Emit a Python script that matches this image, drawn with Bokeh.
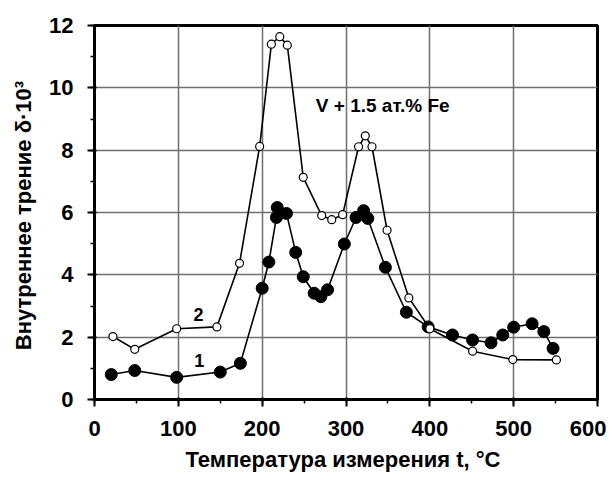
from bokeh.plotting import figure
from bokeh.models import Range1d, SingleIntervalTicker, Label
from bokeh.embed import file_html
from bokeh.resources import INLINE

# curve 1 (filled circles)
t1 = [20, 48, 98, 150, 174, 200, 208, 217, 218, 229, 240, 249, 262, 270, 278,
      298, 312, 321, 326, 347, 372, 398, 427, 451, 473, 487, 500, 522, 536, 547]
d1 = [0.80, 0.93, 0.71, 0.88, 1.16, 3.57, 4.41, 5.84, 6.16, 5.97, 4.72, 3.94, 3.41, 3.30, 3.52,
      4.99, 5.84, 6.06, 5.81, 4.24, 2.80, 2.33, 2.07, 1.91, 1.82, 2.07, 2.32, 2.43, 2.18, 1.64]

# curve 2 (open circles)
t2 = [22, 48, 98, 146, 173, 197, 211, 221, 230, 249, 271, 283, 296, 315, 323, 331,
      349, 375, 400, 451, 499, 551]
d2 = [2.02, 1.61, 2.27, 2.33, 4.37, 8.12, 11.40, 11.64, 11.37, 7.13, 5.90, 5.77, 5.93, 8.11, 8.46, 8.11,
      5.43, 3.26, 2.27, 1.55, 1.28, 1.27]

x_label = "Температура измерения  t, °C"
y_label = "Внутреннее трение  δ·10³"
note = "V + 1.5 ат.% Fe"
FONT = "Liberation Sans"

p = figure(frame_width=503, frame_height=374, min_border_left=94, min_border_top=25,
           min_border_right=9, min_border_bottom=70,
           x_range=Range1d(0, 600), y_range=Range1d(0, 12),
           output_backend="svg", toolbar_location=None,
           background_fill_color="white", border_fill_color="white")

p.xaxis.ticker = SingleIntervalTicker(interval=100, num_minor_ticks=2)
p.yaxis.ticker = SingleIntervalTicker(interval=2, num_minor_ticks=2)

for ax in (p.xaxis[0], p.yaxis[0]):
    ax.axis_line_width = 3
    ax.axis_line_color = "black"
    ax.major_tick_line_width = 2
    ax.minor_tick_line_width = 1.5
    ax.major_tick_in = 2
    ax.minor_tick_in = 0
    ax.major_tick_out = 7
    ax.minor_tick_out = 4
    ax.major_label_text_font = FONT
    ax.major_label_text_font_style = "bold"
    ax.major_label_text_font_size = "22px"
    ax.major_label_text_color = "black"
    ax.axis_label_text_font = FONT
    ax.axis_label_text_font_style = "bold"
    ax.axis_label_text_font_size = "22px"
    ax.axis_label_text_color = "black"

p.xaxis.axis_label = x_label
p.yaxis.axis_label = y_label
p.xaxis.major_label_standoff = 14
p.yaxis.major_label_standoff = 14
p.xaxis.axis_label_standoff = 8
p.yaxis.axis_label_standoff = 10

p.xgrid.grid_line_color = "#6f6f6f"
p.ygrid.grid_line_color = "#6f6f6f"
p.xgrid.grid_line_width = 1.5
p.ygrid.grid_line_width = 1.5

p.outline_line_color = "black"
p.outline_line_width = 3
p.outline_line_alpha = 1

p.line(t1, d1, line_color="black", line_width=1.6)
p.line(t2, d2, line_color="black", line_width=1.6)
p.scatter(t1, d1, size=12, fill_color="black", line_color="black")
p.scatter(t2, d2, size=8, fill_color="white", line_color="black", line_width=1.2)

p.add_layout(Label(x=264, y=9.42, text=note, text_font=FONT, text_font_style="bold",
                   text_font_size="19px", text_baseline="middle", text_color="black"))
p.add_layout(Label(x=124, y=2.73, text="2", text_font=FONT, text_font_style="bold",
                   text_font_size="18px", text_baseline="middle", text_align="center",
                   text_color="black"))
p.add_layout(Label(x=125, y=1.24, text="1", text_font=FONT, text_font_style="bold",
                   text_font_size="18px", text_baseline="middle", text_align="center",
                   text_color="black"))

open("out.html", "w").write(file_html(p, INLINE))
